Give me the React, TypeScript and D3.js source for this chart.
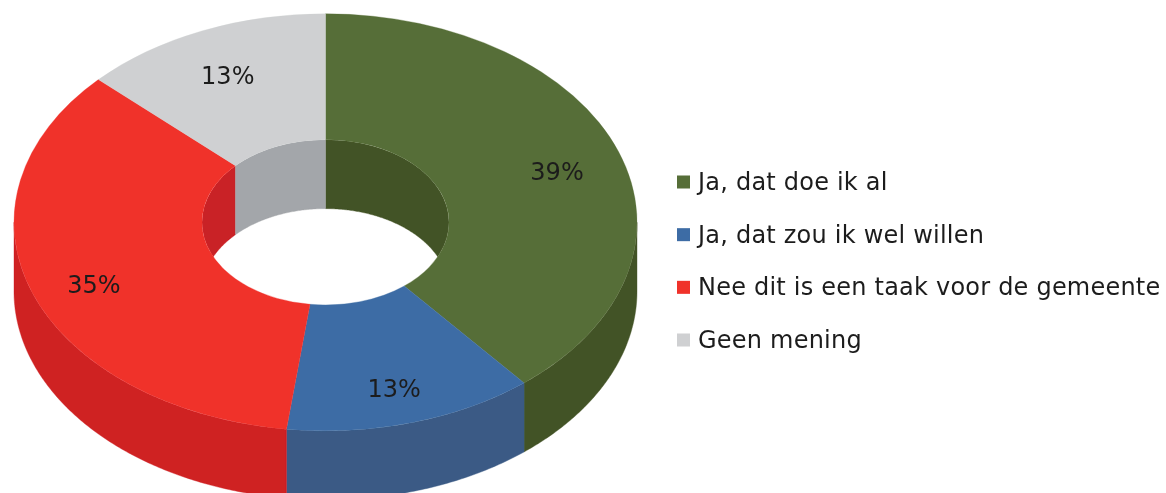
import React from "react";
import * as d3 from "d3";

const categories = ["Ja, dat doe ik al", "Ja, dat zou ik wel willen", "Nee dit is een taak voor de gemeente", "Geen mening"];
const values = [39, 13, 35, 13];
const topColors = ["#566e37", "#3d6ca5", "#f0302a", "#cfd0d2"];
const wallColors = ["#435326", "#3a5a85", "#cf2023", "#a3a6aa"];
const innerColors = ["#435326", "#3a5a85", "#c92025", "#a3a6aa"];

const W = 1166, H = 493;
const cx = 325.5, cy = 222.3;
const outerRx = 311.5, outerRy = 208.5;
const innerRx = 123.5;
const squash = outerRy / outerRx;
const innerRy = innerRx * squash;
const depth = 69;
const TAU = Math.PI * 2;

const slices = d3.pie<number>().sort(null).value((d) => d)(values);
const arc = d3.arc<any>().innerRadius(innerRx).outerRadius(outerRx);

const pt = (a: number, rx: number, ry: number, dy = 0): [number, number] => [
  cx + rx * Math.sin(a),
  cy - ry * Math.cos(a) + dy,
];
const line = d3.line();

function wallPath(a0: number, a1: number, rx: number, ry: number) {
  if (a1 <= a0) return null;
  const n = Math.max(2, Math.ceil((a1 - a0) / 0.01));
  const angles = d3.range(n + 1).map((i) => a0 + ((a1 - a0) * i) / n);
  const top = angles.map((a) => pt(a, rx, ry));
  const bottom = angles.map((a) => pt(a, rx, ry, depth)).reverse();
  return line([...top, ...bottom]) + "Z";
}

const outerWalls = slices.map((s) => wallPath(Math.max(s.startAngle, TAU / 4), Math.min(s.endAngle, (TAU * 3) / 4), outerRx, outerRy));
const innerWalls = slices.flatMap((s, i) => [
  { i, d: wallPath(Math.max(s.startAngle, 0), Math.min(s.endAngle, TAU / 4), innerRx, innerRy) },
  { i, d: wallPath(Math.max(s.startAngle, (TAU * 3) / 4), Math.min(s.endAngle, TAU), innerRx, innerRy) },
]).filter((w) => w.d);

const legendY = d3.scalePoint<string>().domain(categories).range([182, 340]);
const font = "'DejaVu Sans', Verdana, sans-serif";

export default function App() {
  return (
    <svg width={W} height={H} style={{ position: "absolute", left: 0, top: 0, background: "#fff" }}>
      <defs>
        <filter id="soft" x="0" y="0" width="100%" height="100%" filterUnits="userSpaceOnUse">
          <feGaussianBlur stdDeviation="0.7" />
        </filter>
        <clipPath id="hole">
          <ellipse cx={cx} cy={cy} rx={innerRx} ry={innerRy} />
        </clipPath>
      </defs>
      <g filter="url(#soft)">
        {outerWalls.map((d, i) => d && <path key={i} d={d} fill={wallColors[i]} stroke={wallColors[i]} strokeWidth={0.4} />)}
        <g clipPath="url(#hole)">
          {innerWalls.map((w, k) => <path key={k} d={w.d!} fill={innerColors[w.i]} stroke={innerColors[w.i]} strokeWidth={0.4} />)}
        </g>
        <g transform={`translate(${cx},${cy}) scale(1,${squash})`}>
          {slices.map((s, i) => <path key={i} d={arc(s)!} fill={topColors[i]} stroke={topColors[i]} strokeWidth={0.4} />)}
        </g>
        {slices.map((s, i) => {
          const [x, y] = pt((s.startAngle + s.endAngle) / 2, outerRx * 0.79, outerRy * 0.8, 6);
          return (
            <text key={i} x={x} y={y} dy="0.36em" textAnchor="middle" fontFamily={font} fontSize={24} fill="#1c1c1c">
              {values[i]}%
            </text>
          );
        })}
        {categories.map((c, i) => (
          <g key={c} transform={`translate(0,${legendY(c)})`}>
            <rect x={677} y={-6.5} width={13} height={13} fill={topColors[i]} />
            <text x={698} y={0} dy="0.33em" fontFamily={font} fontSize={24} letterSpacing={0.22} fill="#1c1c1c">{c}</text>
          </g>
        ))}
      </g>
    </svg>
  );
}
